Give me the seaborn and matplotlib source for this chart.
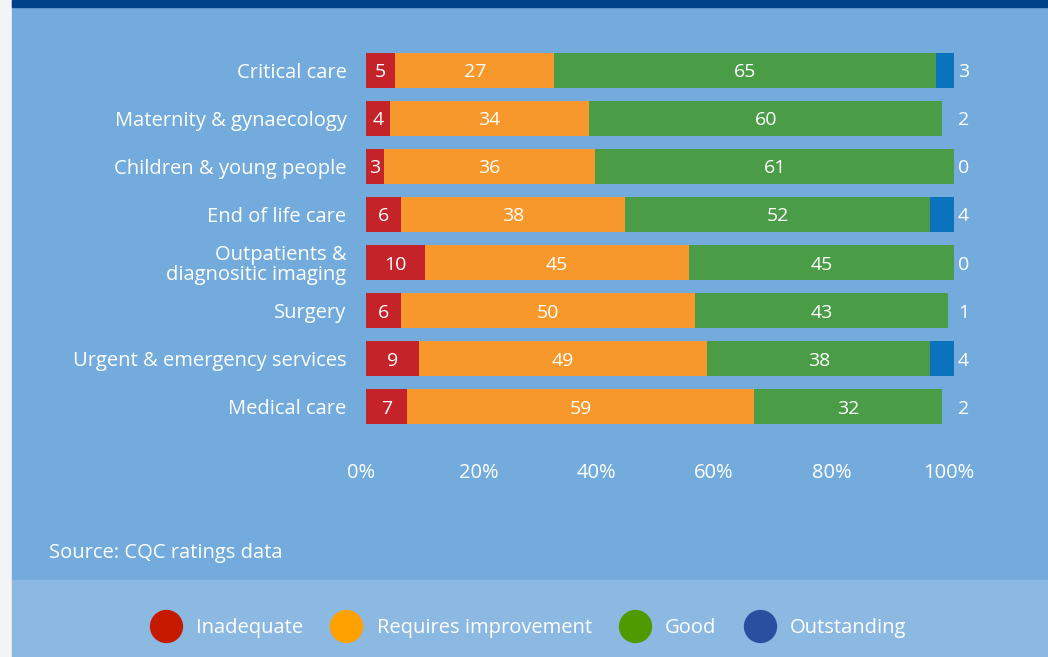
import matplotlib
matplotlib.use("Agg")
import matplotlib.pyplot as plt
import matplotlib.transforms as mtransforms
from matplotlib.patches import Rectangle
from matplotlib.lines import Line2D
import seaborn as sns
import pandas as pd

# ratings share (%) by core service
services = [
    "Critical care",
    "Maternity & gynaecology",
    "Children & young people",
    "End of life care",
    "Outpatients &\ndiagnositic imaging",
    "Surgery",
    "Urgent & emergency services",
    "Medical care",
]
inadequate = [5, 4, 3, 6, 10, 6, 9, 7]
requires_improvement = [27, 34, 36, 38, 45, 50, 49, 59]
good = [65, 60, 61, 52, 45, 43, 38, 32]
outstanding = [3, 2, 0, 4, 0, 1, 4, 2]
# the source only shows a blue segment for the larger outstanding shares
outstanding_drawn = [3, 0, 0, 4, 0, 0, 4, 0]

rating_names = ["Inadequate", "Requires improvement", "Good", "Outstanding"]
bar_colors = ["#c4232a", "#f7982d", "#4a9c47", "#0b73bb"]
legend_colors = ["#c51a00", "#ffa100", "#4f9a00", "#2a4fa0"]

BG = "#73acdc"
BG_LEGEND = "#8cb9e2"
FONT = ["Open Sans", "DejaVu Sans"]
FS = 14.5

df = pd.DataFrame({
    "service": services,
    "inadequate": inadequate,
    "requires": requires_improvement,
    "good": good,
    "outstanding": outstanding,
    "outstanding_drawn": outstanding_drawn,
})
df["c1"] = df["inadequate"]
df["c2"] = df["c1"] + df["requires"]
df["c3"] = df["c2"] + df["good"]
df["c4"] = df["c3"] + df["outstanding_drawn"]

sns.set_theme(style="white")
plt.rcParams["font.family"] = FONT

W, H = 1048, 657
fig = plt.figure(figsize=(W / 100, H / 100), dpi=100)
fig.patch.set_facecolor("#f3f4f6")

# background panels (pixel coords from the top)
def px_rect(x0, y0, x1, y1, color):
    fig.patches.append(Rectangle((x0 / W, 1 - y1 / H), (x1 - x0) / W, (y1 - y0) / H,
                                 transform=fig.transFigure, color=color, zorder=-5))

px_rect(12, 0, W, 580, BG)
px_rect(12, 580, W, H, BG_LEGEND)
px_rect(12, 0, W, 7, "#00428a")

ax = fig.add_axes([366 / W, 1 - 431 / H, (954 - 366) / W, (431 - 46) / H])
ax.set_facecolor("none")
ax.set_zorder(2)

# stacked bars drawn from the longest cumulative segment down
for col, color in zip(["c4", "c3", "c2", "c1"], bar_colors[::-1]):
    sns.barplot(data=df, x=col, y="service", color=color, orient="h",
                width=0.727, saturation=1, ax=ax, linewidth=0)

down = mtransforms.ScaledTranslation(0, -2 / 100, fig.dpi_scale_trans)
for i, row in df.iterrows():
    starts = [0, row["c1"], row["c2"]]
    vals = [row["inadequate"], row["requires"], row["good"]]
    for s, v in zip(starts, vals):
        ax.text(s + v / 2, i, f"{v}", ha="center", va="center", color="white",
                fontsize=14, family=FONT, transform=ax.transData + down)
    off = mtransforms.offset_copy(ax.transData, fig=fig, x=4, y=-2, units="dots")
    ax.text(100, i, f"{row['outstanding']}", ha="left", va="center", color="white",
            fontsize=14, family=FONT, transform=off)

ax.set_xlim(0, 100)
ax.set_ylim(7.5, -0.5)
ax.set_xticks([0, 20, 40, 60, 80, 100])
ax.set_xticklabels([f"{t}%" for t in [0, 20, 40, 60, 80, 100]])
ax.set_xlabel("")
ax.set_ylabel("")
ax.tick_params(axis="x", length=0, pad=23, labelsize=FS, colors="white")
ax.tick_params(axis="y", length=0, pad=14, labelsize=FS, colors="white")
for lbl in ax.get_xticklabels():
    lbl.set_transform(lbl.get_transform() + mtransforms.ScaledTranslation(-5 / 100, 0, fig.dpi_scale_trans))
for lbl in ax.get_yticklabels():
    lbl.set_linespacing(1.0)
sns.despine(ax=ax, left=True, bottom=True)

fig.text(49 / W, 1 - 553 / H, "Source: CQC ratings data", color="white",
         fontsize=FS, ha="left", va="center", family=FONT)

handles = [Line2D([], [], marker="o", linestyle="none", markersize=24,
                  markerfacecolor=c, markeredgewidth=0) for c in legend_colors]
fig.legend(handles, rating_names, loc="center", bbox_to_anchor=(528 / W, 1 - 628 / H),
           ncol=4, frameon=False, labelcolor="white",
           handlelength=1.6, handletextpad=0.7, columnspacing=1.35, prop={"family": FONT, "size": FS})

fig.savefig("out.png", dpi=100, facecolor=fig.get_facecolor())
